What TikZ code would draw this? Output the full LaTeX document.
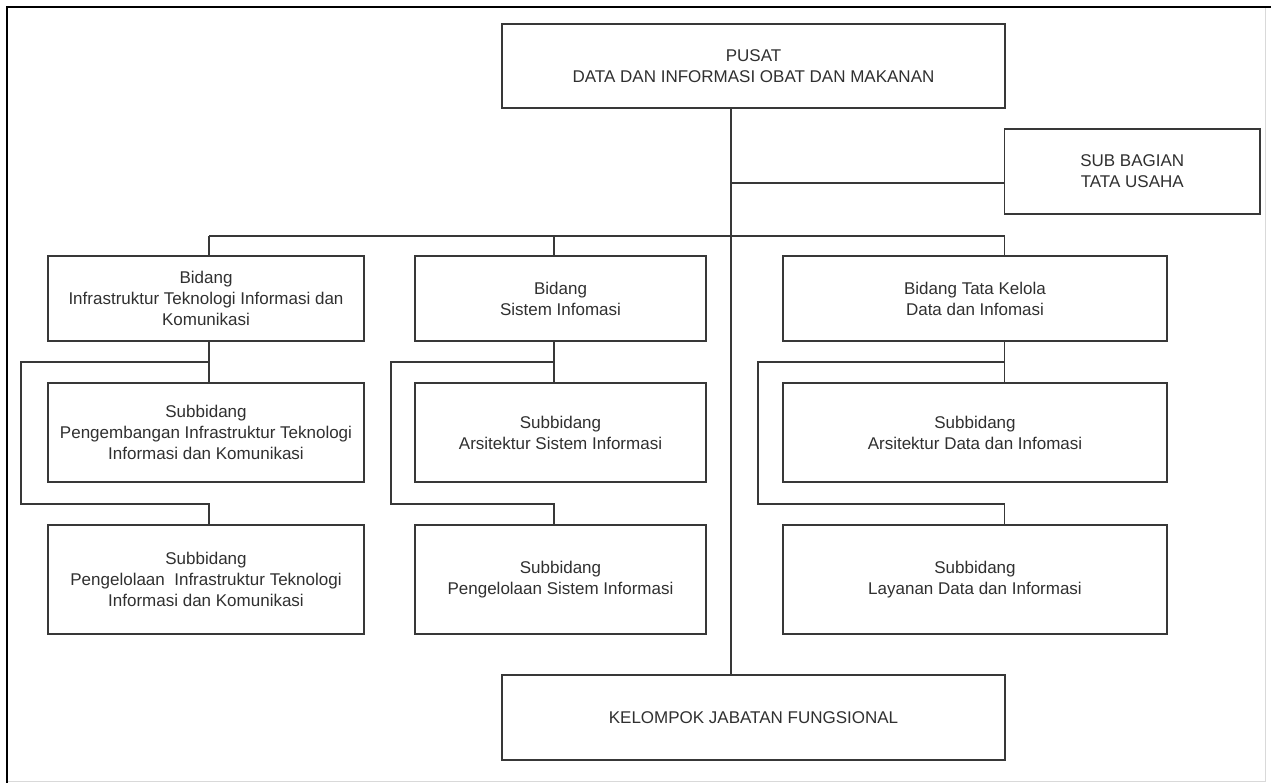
\documentclass[tikz,border=0pt]{standalone}
\usepackage{fontspec}
\setmainfont{Liberation Sans}
\definecolor{boxc}{HTML}{383838}
\definecolor{txtc}{HTML}{303030}
\begin{document}
\begin{tikzpicture}[x=1pt,y=-1pt,
  box/.style={draw=boxc, line width=1.3pt, inner sep=0pt, align=center,
    font=\fontsize{17}{21}\selectfont, text=txtc},
  conn/.style={draw=boxc, line width=1.3pt}]
\useasboundingbox (0,0) rectangle (1271,783);
\fill[white] (0,0) rectangle (1271,783);
% page frame
\draw[black!15, line width=0.8pt] (1265,7) -- (1265,781) -- (7,781);
\draw[black, line width=2.2pt] (7,783) -- (7,7) -- (1271,7);

% boxes
\node[box, minimum width=503, minimum height=84] (pusat) at (753.5,66)
  {PUSAT\\DATA DAN INFORMASI OBAT DAN MAKANAN};
\node[box, minimum width=255.5, minimum height=85] (sba) at (1132.25,171.5)
  {SUB BAGIAN\\TATA USAHA};
\node[box, minimum width=316, minimum height=85] (b1) at (206,298.5)
  {Bidang\\Infrastruktur Teknologi Informasi dan\\Komunikasi};
\node[box, minimum width=291, minimum height=85] (b2) at (560.5,298.5)
  {Bidang\\Sistem Infomasi};
\node[box, minimum width=384, minimum height=85] (b3) at (975,298.5)
  {Bidang Tata Kelola\\Data dan Infomasi};
\node[box, minimum width=316, minimum height=99] (s11) at (206,432.5)
  {Subbidang\\Pengembangan Infrastruktur Teknologi\\Informasi dan Komunikasi};
\node[box, minimum width=316, minimum height=109] (s12) at (206,579.5)
  {Subbidang\\Pengelolaan~ Infrastruktur Teknologi\\Informasi dan Komunikasi};
\node[box, minimum width=291, minimum height=99] (s21) at (560.5,432.5)
  {Subbidang\\Arsitektur Sistem Informasi};
\node[box, minimum width=291, minimum height=109] (s22) at (560.5,579.5)
  {Subbidang\\Pengelolaan Sistem Informasi};
\node[box, minimum width=384, minimum height=99] (s31) at (975,432.5)
  {Subbidang\\Arsitektur Data dan Infomasi};
\node[box, minimum width=384, minimum height=109] (s32) at (975,579.5)
  {Subbidang\\Layanan Data dan Informasi};
\node[box, minimum width=503, minimum height=85] (kjf) at (753.5,717.5)
  {KELOMPOK JABATAN FUNGSIONAL};

% trunk
\coordinate (tk) at (731,0);
\coordinate (j0) at (731,183);
\draw[conn] (pusat.south -| tk) -- (kjf.north -| tk);
\draw[conn] (j0) -- (sba.west |- j0);

% bus to bidang
\coordinate (bl) at (209,236);
\coordinate (bm) at (554,236);
\coordinate (br) at (1004.5,236);
\draw[conn] (bl) -- (br);
\draw[conn] (bl) -- (b1.north -| bl);
\draw[conn] (bm) -- (b2.north -| bm);
\draw[conn] (br) -- (b3.north -| br);

% column 1
\coordinate (c1) at (209,362);
\coordinate (l1) at (21,362);
\coordinate (m1) at (21,504);
\coordinate (n1) at (209,504);
\draw[conn] (b1.south -| c1) -- (s11.north -| c1);
\draw[conn] (c1) -- (l1) -- (m1) -- (n1) -- (s12.north -| n1);

% column 2
\coordinate (c2) at (554,362);
\coordinate (l2) at (391,362);
\coordinate (m2) at (391,504);
\coordinate (n2) at (554,504);
\draw[conn] (b2.south -| c2) -- (s21.north -| c2);
\draw[conn] (c2) -- (l2) -- (m2) -- (n2) -- (s22.north -| n2);

% column 3
\coordinate (c3) at (1004.5,362);
\coordinate (l3) at (758,362);
\coordinate (m3) at (758,504);
\coordinate (n3) at (1004.5,504);
\draw[conn] (b3.south -| c3) -- (s31.north -| c3);
\draw[conn] (c3) -- (l3) -- (m3) -- (n3) -- (s32.north -| n3);
\end{tikzpicture}
\end{document}
